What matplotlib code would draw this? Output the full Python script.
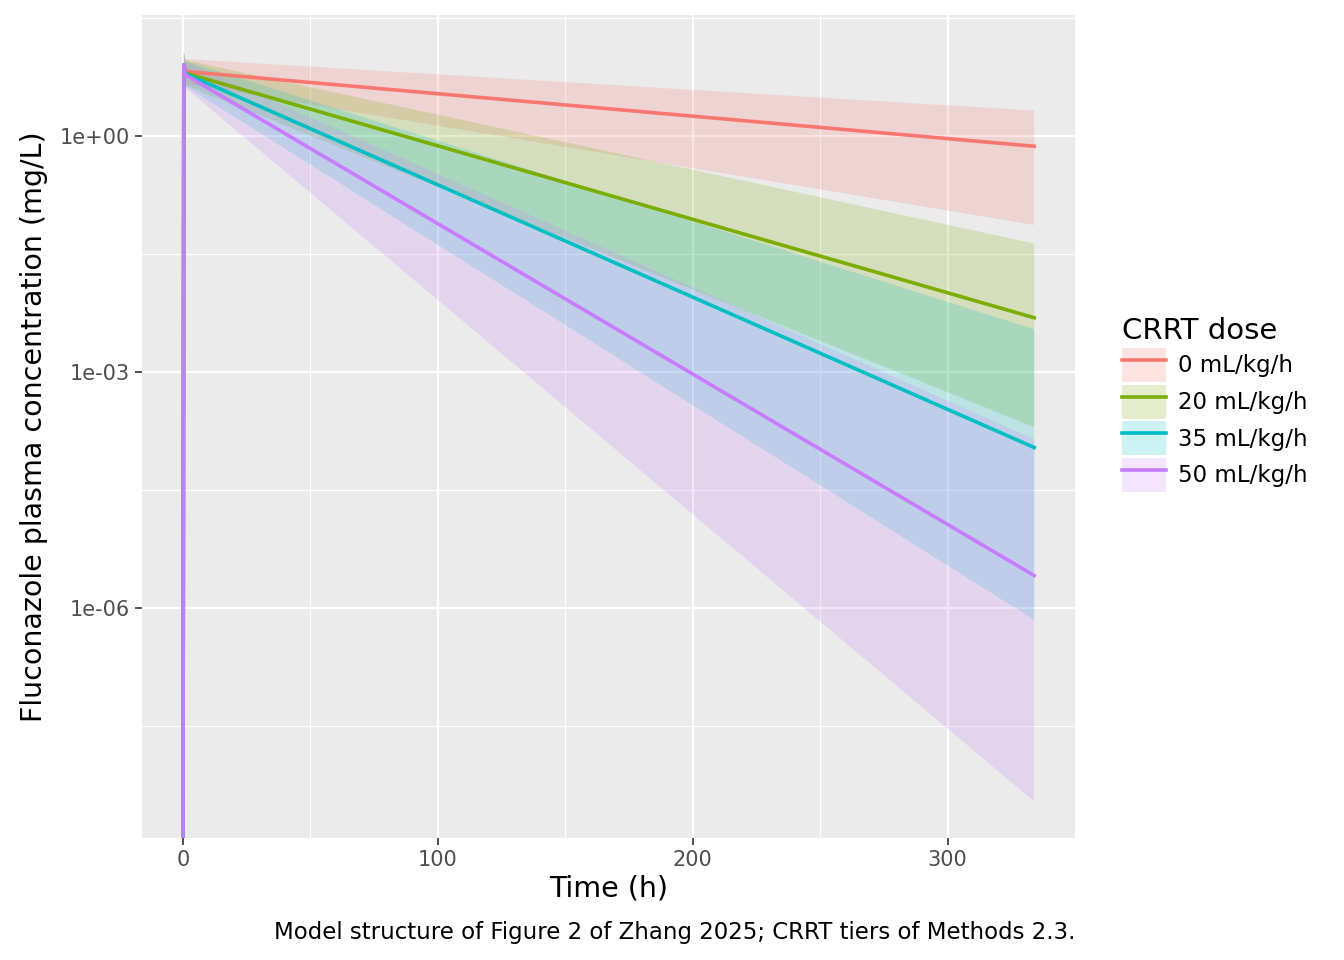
import numpy as np
import matplotlib
matplotlib.use("Agg")
import matplotlib.pyplot as plt
from matplotlib.patches import Patch
from matplotlib.lines import Line2D
from matplotlib.ticker import FixedLocator, NullFormatter

plt.rcParams['font.family'] = ['DejaVu Sans']

time_h = [0, 0.4, 1.0, 334]
doses = ["0 mL/kg/h", "20 mL/kg/h", "35 mL/kg/h", "50 mL/kg/h"]
colors = ["#F8766D", "#7CAE00", "#00BFC4", "#C77CFF"]
median = {
    "0 mL/kg/h":  [1e-12, 8.0, 6.6, 0.74],
    "20 mL/kg/h": [1e-12, 8.0, 6.3, 4.9e-3],
    "35 mL/kg/h": [1e-12, 8.0, 6.2, 1.1e-4],
    "50 mL/kg/h": [1e-12, 8.0, 6.0, 2.6e-6],
}
lower = {
    "0 mL/kg/h":  [1e-12, 5.5, 4.6, 7.4e-2],
    "20 mL/kg/h": [1e-12, 5.5, 4.4, 2.0e-4],
    "35 mL/kg/h": [1e-12, 5.5, 4.3, 7.1e-7],
    "50 mL/kg/h": [1e-12, 5.5, 4.1, 3.5e-9],
}
upper = {
    "0 mL/kg/h":  [1e-12, 12.0, 9.5, 2.1],
    "20 mL/kg/h": [1e-12, 12.0, 9.2, 4.3e-2],
    "35 mL/kg/h": [1e-12, 12.0, 9.0, 3.5e-3],
    "50 mL/kg/h": [1e-12, 12.0, 8.8, 1.4e-4],
}

fig = plt.figure(figsize=(13.44, 9.6), dpi=100)
ax = fig.add_axes([142/1344, 1-838/960, (1075-142)/1344, (838-15)/960])
ax.set_facecolor("#EBEBEB")
for s in ax.spines.values():
    s.set_visible(False)

for d, c in zip(doses, colors):
    ax.fill_between(time_h, lower[d], upper[d], color=c, alpha=0.2, linewidth=0, zorder=2)
for d, c in zip(doses, colors):
    ax.plot(time_h, median[d], color=c, lw=2.6, zorder=3)

ax.set_yscale("log")
ax.set_ylim(10**-8.92, 10**1.537)
ax.set_xlim(-16, 350)
ax.yaxis.set_major_locator(FixedLocator([1e0, 1e-3, 1e-6]))
ax.yaxis.set_minor_locator(FixedLocator([10**1.5, 10**-1.5, 10**-4.5, 10**-7.5]))
ax.yaxis.set_minor_formatter(NullFormatter())
ax.set_yticklabels(["1e+00", "1e-03", "1e-06"])
ax.set_xticks([0, 100, 200, 300])
ax.set_xticks([50, 150, 250, 350], minor=True)
ax.grid(True, which="major", color="white", lw=1.6, zorder=0)
ax.grid(True, which="minor", color="white", lw=0.8, zorder=0)
ax.set_axisbelow(True)
ax.tick_params(which="both", length=5, width=1.2, color="#333333", labelsize=15, labelcolor="#4D4D4D", pad=4)
ax.tick_params(which="minor", length=0)
ax.set_xlabel("Time (h)", fontsize=20.5, labelpad=3)
ax.set_ylabel("Fluconazole plasma concentration (mg/L)", fontsize=20.5, labelpad=8)

handles = [(Patch(facecolor=c, alpha=0.2, edgecolor="none"), Line2D([], [], color=c, lw=2.6)) for c in colors]
leg = fig.legend(handles, doses, title="CRRT dose", loc="upper left",
                 bbox_to_anchor=(1113/1344, 1-308/960), frameon=False,
                 fontsize=16.5, title_fontsize=21, handlelength=1.9, handleheight=1.9,
                 labelspacing=0.12, handletextpad=0.55, borderaxespad=0)
leg._legend_box.align = "left"

fig.text(1075/1344, 1-932/960, "Model structure of Figure 2 of Zhang 2025; CRRT tiers of Methods 2.3.",
         ha="right", va="center", fontsize=16.5)

fig.savefig("out.png", dpi=100)
